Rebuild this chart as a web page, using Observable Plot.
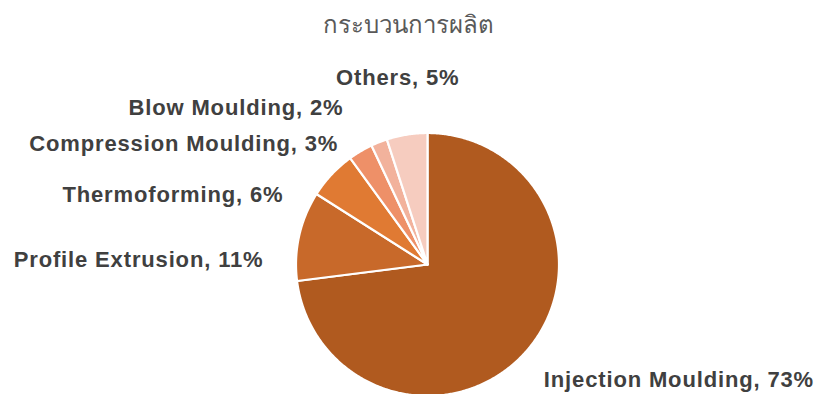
<!DOCTYPE html>
<html>
<head>
<meta charset="utf-8">
<script src="https://cdn.jsdelivr.net/npm/d3@7"></script>
<script src="https://cdn.jsdelivr.net/npm/@observablehq/plot@0.6"></script>
<style>
  html, body { margin: 0; padding: 0; background: #fff; }
  #wrap { position: relative; width: 814px; height: 394px; overflow: hidden; }
  #title { position: absolute; left: 0; top: 5px; width: 816px; text-align: center;
           font-family: "Noto Sans", "DejaVu Sans", sans-serif; font-size: 24px; color: #595959; }
  #chart svg text { letter-spacing: 0.85px; }
</style>
</head>
<body>
<div id="wrap">
  <div id="title">กระบวนการผลิต</div>
  <div id="chart"></div>
</div>
<script>
// Data
const categories = ["Injection Moulding", "Profile Extrusion", "Thermoforming", "Compression Moulding", "Blow Moulding", "Others"];
const shares = [73, 11, 6, 3, 2, 5];
const colors = ["#B05A1F", "#C8692A", "#E07A33", "#EE9068", "#F2B29C", "#F6CCBF"];

// Label layout (anchor and pixel nudges)
const labelAnchor = ["start", "end", "end", "end", "end", "middle"];
const labelDx = [-2, -10, -29, -9, -26, -5];
const labelDy = [11, 30, 38, 15, -10, -31];

const W = 814, H = 394;
const cx = 427, cy = 264, R = 131.5;

const pie = d3.pie().sort(null).value(d => d.share).startAngle(0).endAngle(2 * Math.PI);
const rows = categories.map((name, i) => ({name, share: shares[i], i}));
const arcs = pie(rows);

// Slice outlines in unit coordinates (angle clockwise from 12 o'clock)
const pts = [];
for (const a of arcs) {
  const name = a.data.name;
  pts.push({name, x: 0, y: 0});
  const n = Math.max(2, Math.ceil((a.endAngle - a.startAngle) / (Math.PI / 360)));
  for (let k = 0; k <= n; k++) {
    const t = a.startAngle + (a.endAngle - a.startAngle) * k / n;
    pts.push({name, x: Math.sin(t), y: Math.cos(t)});
  }
  pts.push({name, x: 0, y: 0});
}

const labels = arcs.map(a => {
  const m = (a.startAngle + a.endAngle) / 2;
  const i = a.data.i;
  return {
    text: `${a.data.name}, ${a.data.share}%`,
    x: 1.2 * Math.sin(m), y: 1.2 * Math.cos(m),
    anchor: labelAnchor[i], dx: labelDx[i], dy: labelDy[i]
  };
});

const marks = [
  Plot.line(pts, {x: "x", y: "y", z: "name", fill: "name", stroke: "white", strokeWidth: 2.2, strokeLinejoin: "round", curve: "linear"})
];
for (const l of labels) {
  marks.push(Plot.text([l], {x: "x", y: "y", text: "text", textAnchor: l.anchor, dx: l.dx, dy: l.dy,
    fill: "#404040", fontWeight: "bold", fontSize: 22, fontFamily: "Liberation Sans, Arial, sans-serif"}));
}

const chart = Plot.plot({
  width: W, height: H,
  margin: 0,
  style: {background: "transparent", overflow: "visible"},
  x: {domain: [-1, 1], range: [cx - R, cx + R], axis: null},
  y: {domain: [-1, 1], range: [cy + R, cy - R], axis: null},
  color: {domain: categories, range: colors},
  marks
});
document.getElementById("chart").appendChild(chart);
</script>
</body>
</html>
